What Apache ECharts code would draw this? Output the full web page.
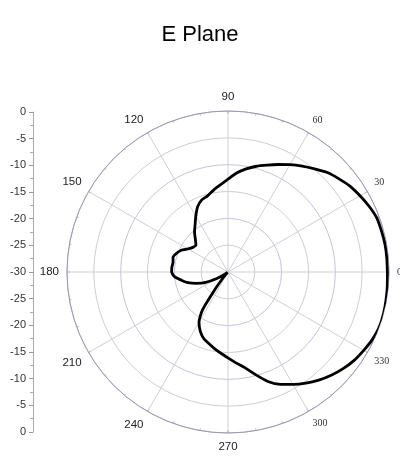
<!DOCTYPE html>
<html>
<head>
<meta charset="utf-8">
<script src="https://cdn.jsdelivr.net/npm/echarts@6/dist/echarts.min.js"></script>
<style>
html,body{margin:0;padding:0;background:#fff;}
#c{width:400px;height:459px;}
</style>
</head>
<body>
<div id="c"></div>
<script>
// Measured E-plane pattern (angle in degrees, gain in dB)
var angleDeg = [0,5,10,15,20,25,30,35,40,45,50,55,60,65,70,75,80,85,90,95,100,105,110,115,120,125,130,135,140,145,150,155,160,165,170,175,180,185,190,195,200,205,210,215,220,225,230,233,236,240,245,250,255,260,265,270,275,280,285,290,295,300,305,310,315,320,325,330,335,340,345,350,355];
var gainDb = [-0.3,-0.3,-0.3,-0.4,-0.5,-1.0,-1.6,-2.2,-3.0,-3.8,-4.9,-5.9,-6.9,-7.9,-8.8,-9.6,-10.5,-11.5,-12.7,-13.7,-14.5,-15.3,-15.7,-16.6,-18.0,-19.3,-20.3,-21.4,-22.2,-22.0,-21.4,-20.4,-19.8,-19.4,-19.6,-19.5,-19.5,-20.0,-21.2,-22.3,-23.8,-25.4,-27.6,-29.2,-29.9,-29.6,-28.6,-26.0,-21.5,-19.2,-17.8,-16.8,-16.2,-15.5,-14.8,-14.0,-13.0,-11.9,-10.2,-8.3,-6.9,-5.8,-4.7,-3.7,-2.8,-2.0,-1.3,-0.8,-0.3,0.0,0.0,-0.1,-0.2];
var angleTicks = [0,30,60,90,120,150,180,210,240,270,300,330];
var serifTicks = [0,30,60,300,330];
var dbMin = -30, dbMax = 0, dbStep = 5;

var data = [];
for (var i = 0; i < angleDeg.length; i++) data.push([gainDb[i], angleDeg[i]]);
data.push([gainDb[0], angleDeg[0] + 360]);

var chart = echarts.init(document.getElementById('c'));
chart.setOption({
  animation: false,
  backgroundColor: '#ffffff',
  title: {
    text: 'E Plane', left: 'center', top: 19,
    textStyle: {fontFamily: 'Liberation Sans, Arial, sans-serif', fontSize: 22, fontWeight: 'normal', color: '#000'}
  },
  polar: {center: [228, 272], radius: 161},
  angleAxis: {
    type: 'value', min: 0, max: 360, interval: 30, startAngle: 0, clockwise: false,
    axisLine: {show: true, lineStyle: {color: '#9a9ab0', width: 1}},
    axisTick: {show: true, inside: true, length: 3, lineStyle: {color: '#9a9ab0'}},
    minorTick: {show: true, splitNumber: 3, length: 2, lineStyle: {color: '#b0b0c0'}},
    splitLine: {show: true, lineStyle: {color: '#cfcfd6', width: 1}},
    axisLabel: {
      margin: 8,
      formatter: function (v) {
        if (v >= 360) return '';
        return serifTicks.indexOf(v) >= 0 ? '{t|' + v + '}' : '{s|' + v + '}';
      },
      rich: {
        t: {fontFamily: 'Liberation Serif, Times New Roman, serif', fontSize: 10, color: '#333'},
        s: {fontFamily: 'Liberation Sans, Arial, sans-serif', fontSize: 11.5, color: '#222'}
      }
    }
  },
  radiusAxis: {
    type: 'value', min: dbMin, max: dbMax, interval: dbStep,
    axisLine: {show: false}, axisTick: {show: false}, axisLabel: {show: false},
    splitLine: {show: true, lineStyle: {color: ['#c4c4dc', '#cfcfd4'], width: 1}}
  },
  grid: {left: 33, top: 112, width: 1, height: 320},
  xAxis: {type: 'value', show: false},
  yAxis: {
    type: 'value', min: -30, max: 30, interval: 5,
    axisLine: {show: true, lineStyle: {color: '#aaaaaa'}},
    axisTick: {show: true, length: 4, lineStyle: {color: '#999'}},
    minorTick: {show: true, splitNumber: 2, length: 3, lineStyle: {color: '#aaa'}},
    splitLine: {show: false},
    axisLabel: {
      margin: 7, fontFamily: 'Liberation Sans, Arial, sans-serif', fontSize: 11, color: '#333',
      formatter: function (v) { return String(Math.abs(v) - 30); }
    }
  },
  series: [{
    type: 'line', coordinateSystem: 'polar', data: data,
    showSymbol: false, smooth: 0.2,
    lineStyle: {color: '#000', width: 2.8}
  }]
});
</script>
</body>
</html>
